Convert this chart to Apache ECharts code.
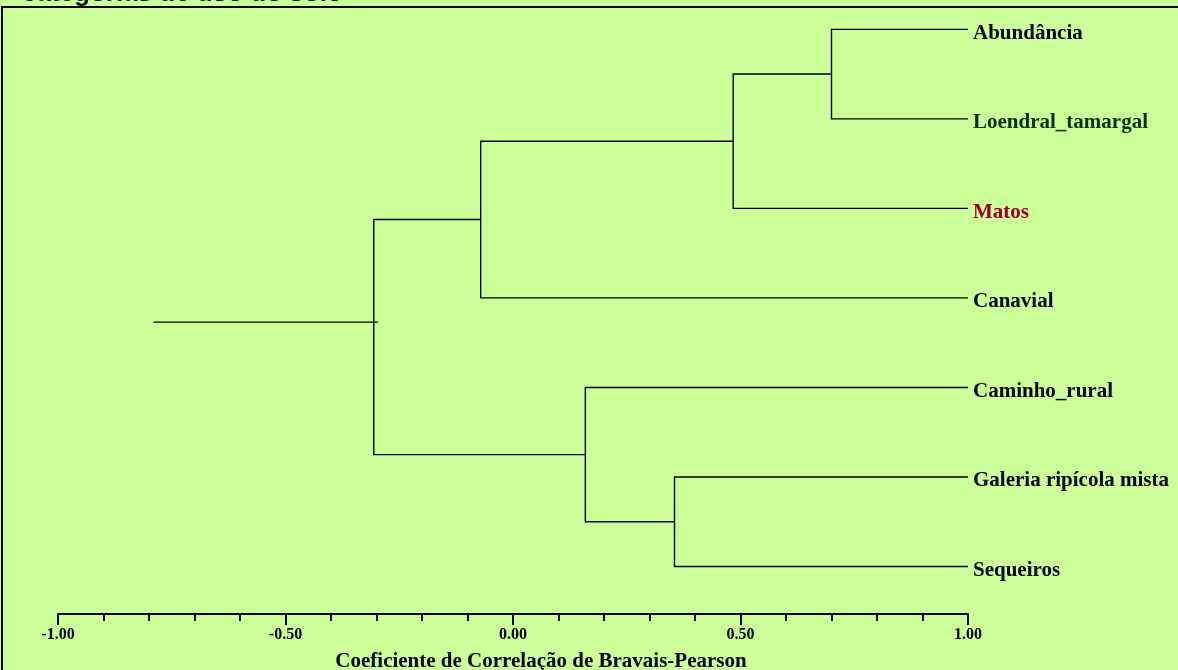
<!DOCTYPE html>
<html>
<head>
<meta charset="utf-8">
<script src="https://cdn.jsdelivr.net/npm/echarts@6/dist/echarts.min.js"></script>
<style>
  html, body { margin: 0; padding: 0; background: #CCFF99; }
  #chart { width: 1178px; height: 670px; }
</style>
</head>
<body>
<div id="chart"></div>
<script>
// ---- data ----
const leaves = ['Abundância', 'Loendral_tamargal', 'Matos', 'Canavial', 'Caminho_rural', 'Galeria ripícola mista', 'Sequeiros'];
const leafHeight = 1.0;
// merges: node ids 0..6 are leaves, merge k creates node 7+k
const mergeLeft   = [0, 7, 8, 5, 4, 9];
const mergeRight  = [1, 2, 3, 6, 10, 11];
const mergeHeight = [0.70, 0.484, -0.071, 0.355, 0.159, -0.306];
const rootStub = [-0.79, -0.297];
const rootStubLevel = 3.27;
const axisTitle = 'Coeficiente de Correlação de Bravais-Pearson';
const headerText = 'categorias de uso do solo';

// ---- styles ----
const leafLabelColors = ['#000000', '#003300', '#990033', '#000000', '#000000', '#000000', '#000000'];
const serif = "'Liberation Serif', 'Times New Roman', serif";

// ---- build dendrogram ----
const nodeX = leaves.map(() => leafHeight);
const nodeY = leaves.map((_, i) => i);
const segs = [];
mergeHeight.forEach((h, k) => {
  const a = mergeLeft[k], b = mergeRight[k];
  segs.push({ coords: [[nodeX[a], nodeY[a]], [h, nodeY[a]], [h, nodeY[b]], [nodeX[b], nodeY[b]]] });
  nodeX.push(h);
  nodeY.push((nodeY[a] + nodeY[b]) / 2);
});
segs.push({ coords: [[rootStub[0], rootStubLevel], [rootStub[1], rootStubLevel]] });

const labelData = leaves.map((name, i) => ({
  value: [leafHeight, i],
  name: name,
  label: { color: leafLabelColors[i] }
}));

const chart = echarts.init(document.getElementById('chart'), null, { renderer: 'canvas' });
chart.setOption({
  backgroundColor: '#CCFF99',
  animation: false,
  graphic: [
    {
      type: 'rect', silent: true,
      shape: { x: 2, y: 7, width: 1300, height: 800 },
      style: { fill: null, stroke: '#000', lineWidth: 2 }
    },
    {
      type: 'text', silent: true, x: 22, y: 6.5,
      style: {
        text: headerText,
        font: "bold 26px 'Liberation Sans', Arial, sans-serif",
        fill: '#000',
        textVerticalAlign: 'bottom'
      }
    }
  ],
  grid: { left: 58, right: 210, top: 29.3, bottom: 56, containLabel: false, outerBoundsMode: 'none' },
  xAxis: {
    type: 'value', min: -1, max: 1, interval: 0.5,
    position: 'bottom',
    axisLine: { show: true, onZero: false, lineStyle: { color: '#000', width: 2 } },
    axisTick: { show: true, length: 11, lineStyle: { color: '#000', width: 2 } },
    minorTick: { show: true, splitNumber: 5, length: 7, lineStyle: { color: '#000', width: 2 } },
    splitLine: { show: false },
    minorSplitLine: { show: false },
    axisLabel: {
      formatter: v => v.toFixed(2),
      color: '#000', fontFamily: serif, fontWeight: 'bold', fontSize: 16, margin: 13
    },
    name: axisTitle,
    nameLocation: 'middle',
    nameGap: 37,
    nameTextStyle: { color: '#000', fontFamily: serif, fontWeight: 'bold', fontSize: 21, padding: [0, 0, 0, 56] }
  },
  yAxis: { type: 'value', inverse: true, min: 0, max: 6.53, show: false },
  series: [
    {
      type: 'lines',
      coordinateSystem: 'cartesian2d',
      polyline: true,
      silent: true,
      lineStyle: { color: '#000', width: 1.4, opacity: 1 },
      data: segs
    },
    {
      type: 'scatter',
      symbolSize: 0,
      silent: true,
      itemStyle: { opacity: 1 },
      data: labelData,
      label: {
        show: true, position: 'right', distance: 5,
        formatter: p => p.name,
        fontFamily: serif, fontWeight: 'bold', fontSize: 21,
        offset: [0, 4]
      }
    }
  ]
});
</script>
</body>
</html>
